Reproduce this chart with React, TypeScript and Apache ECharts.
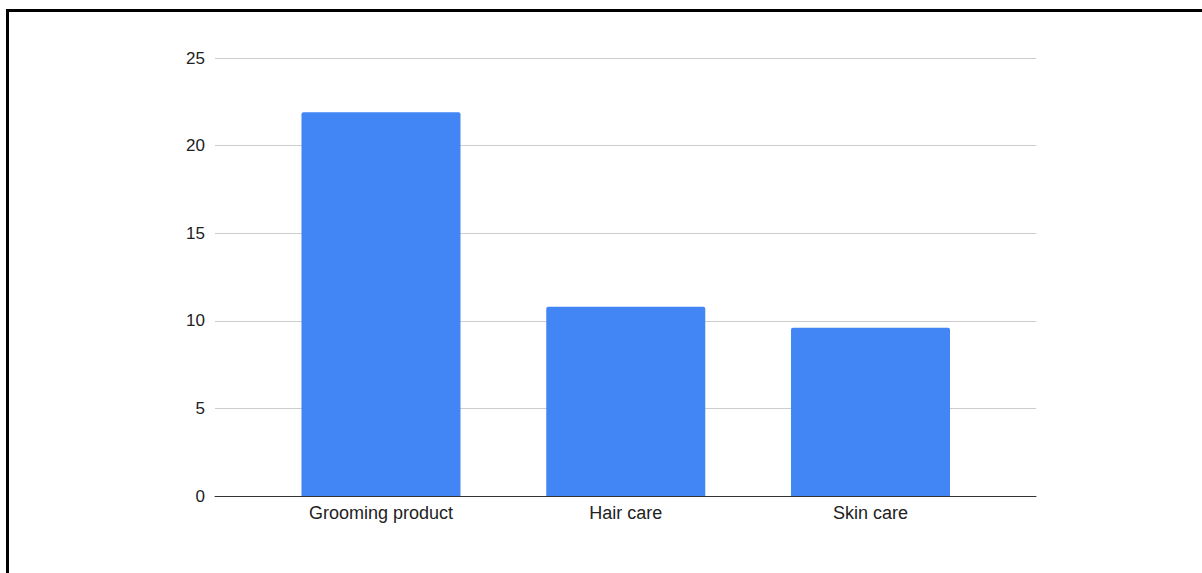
import React, { useEffect, useRef } from "react";
import * as echarts from "echarts";

const categories = ["Grooming product", "Hair care", "Skin care"];
const values = [21.9, 10.8, 9.6];
const yTicks = { min: 0, max: 25, interval: 5 };

export default function App() {
  const ref = useRef<HTMLDivElement>(null);
  useEffect(() => {
    if (!ref.current) return;
    const chart = echarts.init(ref.current, null, { renderer: "svg" });
    const font = "'Liberation Sans', Arial, sans-serif";
    chart.setOption({
      animation: false,
      backgroundColor: "#ffffff",
      graphic: [
        { type: "rect", shape: { x: 6, y: 9, width: 1196, height: 3 }, style: { fill: "#000" } },
        { type: "rect", shape: { x: 6, y: 9, width: 3, height: 564 }, style: { fill: "#000" } },
      ],
      grid: [
        { left: 215, right: 166, top: 58, bottom: 77 },
        { left: 258.6, right: 209.1, top: 58, bottom: 77 },
      ],
      xAxis: [
        {
          type: "value",
          gridIndex: 0,
          min: 0,
          max: 1,
          axisLine: { show: true, onZero: false, lineStyle: { color: "#333", width: 1 } },
          axisTick: { show: false },
          axisLabel: { show: false },
          splitLine: { show: false },
          z: 5,
        },
        {
          type: "category",
          gridIndex: 1,
          data: categories,
          axisLine: { show: false },
          axisTick: { show: false },
          axisLabel: { color: "#222", fontSize: 18, fontFamily: font, margin: 8 },
        },
      ],
      yAxis: [
        {
          type: "value",
          gridIndex: 0,
          min: yTicks.min,
          max: yTicks.max,
          interval: yTicks.interval,
          axisLine: { show: false },
          axisTick: { show: false },
          axisLabel: { color: "#222", fontSize: 17, fontFamily: font, margin: 10 },
          splitLine: { lineStyle: { color: "#cccccc", width: 1 } },
        },
        {
          type: "value",
          gridIndex: 1,
          min: yTicks.min,
          max: yTicks.max,
          show: false,
          splitLine: { show: false },
        },
      ],
      series: [
        {
          type: "bar",
          xAxisIndex: 1,
          yAxisIndex: 1,
          data: values,
          barWidth: 159,
          itemStyle: { color: "#4285F4", borderRadius: [2, 2, 0, 0] },
        },
      ],
    });
    return () => chart.dispose();
  }, []);
  return (
    <div
      ref={ref}
      style={{ position: "fixed", left: 0, top: 0, width: 1202, height: 573 }}
    />
  );
}
